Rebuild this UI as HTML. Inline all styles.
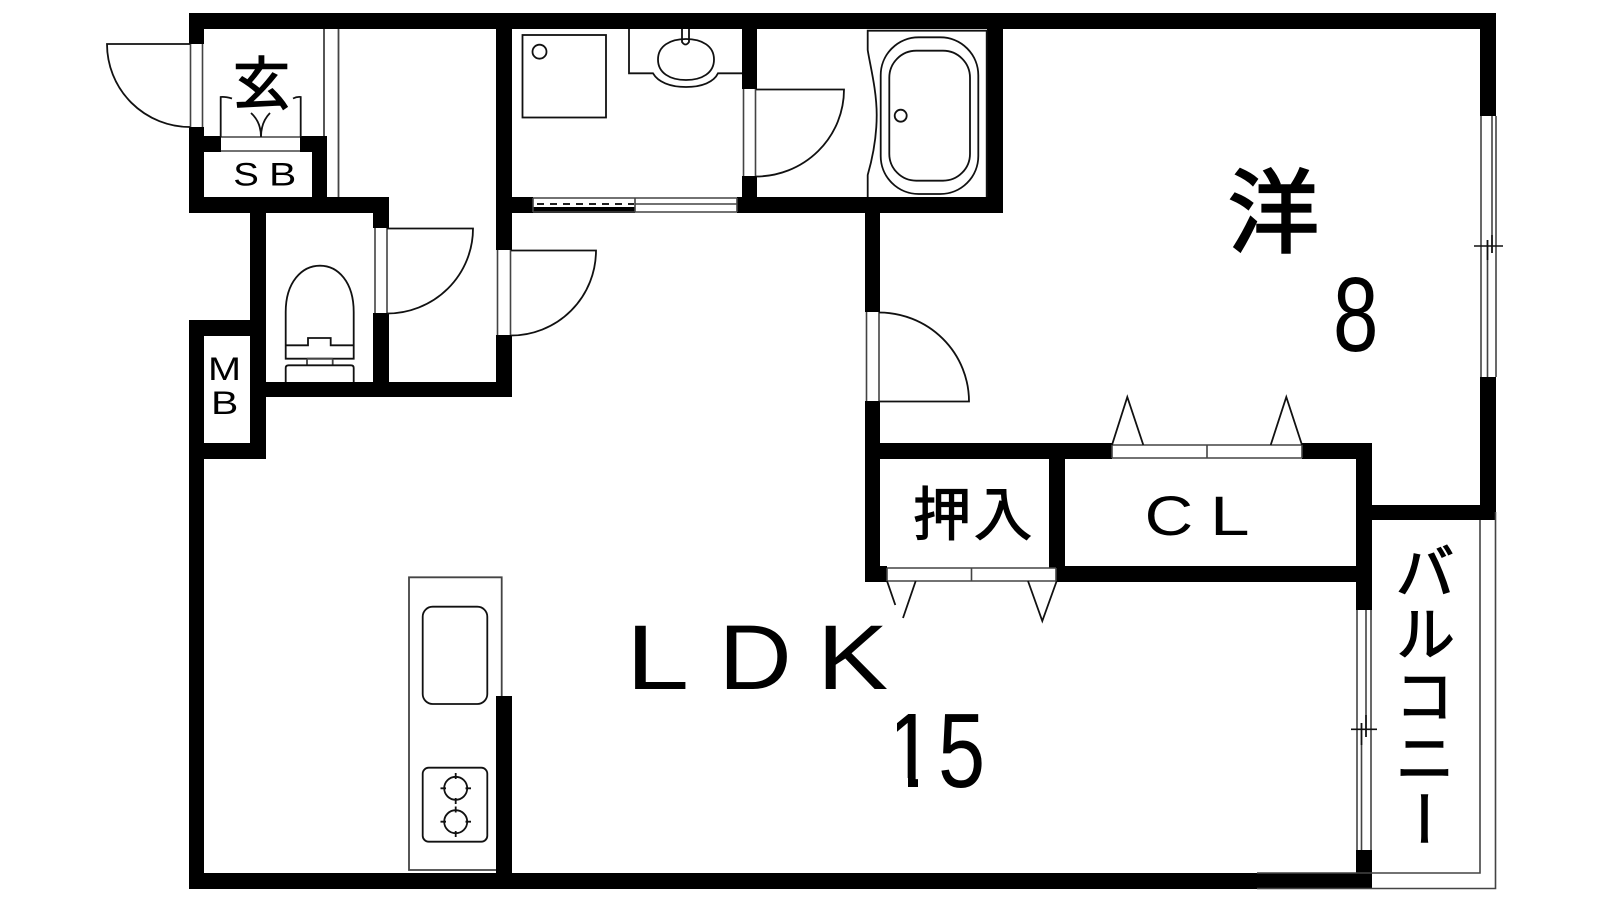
<!DOCTYPE html>
<html lang="ja"><head><meta charset="utf-8"><title>間取り図</title>
<style>html,body{margin:0;padding:0;background:#fff}svg{display:block}
.c{font-family:"Liberation Sans","Noto Sans CJK JP",sans-serif;stroke:#000}
.l{font-family:"Liberation Sans",sans-serif}</style></head>
<body>
<svg width="1600" height="900" viewBox="0 0 1600 900" xmlns="http://www.w3.org/2000/svg">
<rect width="1600" height="900" fill="#fff"/>
<g fill="#000">
<rect x="189" y="13" width="1307" height="16"/>
<rect x="189" y="13" width="15" height="31"/>
<rect x="189" y="127" width="15" height="86"/>
<rect x="189" y="136" width="32" height="16"/>
<rect x="300" y="136" width="27" height="16"/>
<rect x="312" y="136" width="15" height="77"/>
<rect x="189" y="197" width="200" height="16"/>
<rect x="373" y="197" width="16" height="31"/>
<rect x="373" y="313" width="16" height="84"/>
<rect x="250" y="197" width="16" height="262"/>
<rect x="250" y="382" width="262" height="15"/>
<rect x="496" y="13" width="16" height="237"/>
<rect x="496" y="335" width="16" height="62"/>
<rect x="189" y="320" width="61" height="16"/>
<rect x="189" y="320" width="15" height="569"/>
<rect x="189" y="443" width="77" height="16"/>
<rect x="496" y="197" width="37" height="16"/>
<rect x="533" y="207" width="102" height="6"/>
<rect x="737" y="197" width="266" height="16"/>
<rect x="742" y="13" width="15" height="76"/>
<rect x="742" y="176" width="15" height="37"/>
<rect x="987" y="13" width="16" height="200"/>
<rect x="865" y="197" width="15" height="115"/>
<rect x="865" y="401" width="15" height="181"/>
<rect x="865" y="443" width="247" height="16"/>
<rect x="1302" y="443" width="70" height="16"/>
<rect x="1356" y="443" width="16" height="167"/>
<rect x="1356" y="850" width="16" height="39"/>
<rect x="1049" y="443" width="16" height="125"/>
<rect x="865" y="566" width="22" height="16"/>
<rect x="1056" y="566" width="316" height="16"/>
<rect x="189" y="873" width="1183" height="16"/>
<rect x="496" y="696" width="16" height="193"/>
<rect x="1480" y="13" width="16" height="103"/>
<rect x="1480" y="377" width="16" height="143"/>
<rect x="1372" y="505" width="124" height="15"/>
</g>

<!-- frames: gray thin -->
<g fill="none" stroke="#444" stroke-width="1.6">
<path d="M190.5 44V127M202.5 44V127"/>
<path d="M221 137H300M221 151H300"/>
<path d="M375 228V313M387 228V313"/>
<path d="M497.5 250V335M510.5 250V335"/>
<path d="M743.5 89V176M755.5 89V176"/>
<path d="M866.5 312V401M879 312V401"/>
<path d="M1112 445H1302M1112 458H1302M1112 445V458M1302 445V458M1207 445V458"/>
<path d="M887 568H1056M887 581H1056M887 568V581M1056 568V581M971.5 568V581"/>
<path d="M1481 116V377M1496 116V377M1492 116V253M1487.5 240V377"/>
<path d="M1357 610V850M1371 610V850M1366 610V737M1361.5 723V850"/>
<path d="M1480 520V873H1372M1495.5 512V888.5H1372M1257 873H1372M1257 888.5H1372"/>
<path d="M533 198H737M533 212H737M533 198V212M737 198V212M635 198V212M635 204H737"/>
</g>
<path d="M537 204H634" fill="none" stroke="#000" stroke-width="1.8" stroke-dasharray="7 6"/>

<!-- black thin -->
<g fill="none" stroke="#111" stroke-width="1.8">
<path d="M190 44H107A83 83 0 0 0 190 127"/>
<path d="M387 228.500H473A86 85 0 0 1 387 313.500"/>
<path d="M511 250.500H596A85 85 0 0 1 511 335.500"/>
<path d="M756 89.500H844A88 87 0 0 1 756 176.500"/>
<path d="M879 312.500A90 89 0 0 1 969 401.500H879"/>
<path d="M324 29V136M338.500 29V197" stroke="#444"/>
<path d="M232 98.500Q225 96.500 220.700 97V137M293 98.500Q297 96.500 300.700 97V137"/>
<path d="M251 113Q261 122 261 137Q261 122 270 113"/>
<rect x="522.500" y="35" width="83.500" height="82.500"/>
<circle cx="539.500" cy="51.700" r="7"/>
<path d="M629 29V73.300H653C658 82 670 87 686 87S714 82 718 73.300H742"/>
<path d="M658 59.500C658 46 670 39 686 39S714 46 714 59.500S702 80 686 80S658 73 658 59.500Z"/>
<path d="M682 29V42Q685.500 47 689 42V29"/>
<path d="M867.700 197V175C872 160 876.700 140 876.700 115C876.700 90 870 65 867.700 50V30.700H986.700V197"/>
<rect x="880.700" y="37.300" width="97.600" height="156.700" rx="38" ry="38"/>
<rect x="889.300" y="50.700" width="80.700" height="130" rx="27" ry="27"/>
<circle cx="900.700" cy="115.700" r="6"/>
<path d="M285.700 358.700V312C285.700 282 302 265.700 320 265.700S353.700 282 353.700 312V358.700Z"/>
<path d="M285.700 345.300H308V338H330.700V345.300H353.700"/>
<path d="M307 358.700V365.300M332.700 358.700V365.300M307 358.700H332.700" stroke="#444"/>
<path d="M285.700 382V368Q285.700 365.300 288.500 365.300H351Q353.700 365.300 353.700 368V382"/>
<path d="M1112 445L1127.300 397L1143.300 445M1270.700 445L1286.300 397L1302 445"/>
<path d="M887 581L895.300 605M915.700 581L903 618M1028 581L1042.300 621L1056.700 581"/>
<path d="M1474 246H1503M1351 729.300H1377M1487.500 240V260M1492 235V253M1361.500 723V745M1366 715V737" stroke-width="1.6"/>
<path d="M409 696V577.300H501.700V696M409 577V870H496" stroke="#444"/>
<rect x="422.700" y="606.700" width="64.600" height="97.300" rx="10"/>
<rect x="422.700" y="767.700" width="64.600" height="74" rx="6"/>
<circle cx="455.700" cy="788.300" r="11.500"/>
<circle cx="455.700" cy="821.700" r="11.500"/>
<path d="M455.700 773V779M455.700 798V804M440.500 788.300H446M465.500 788.300H471M455.700 806.500V812.500M455.700 831V837M440.500 821.700H446M465.500 821.700H471"/>
</g>

<!-- labels -->
<text class="c" x="233" y="104" font-size="57" stroke-width="1.4">玄</text>
<text class="l" transform="translate(233.300,185.500) scale(1.2,1)" font-size="32">S</text>
<text class="l" transform="translate(269,185.500) scale(1.28,1)" font-size="32">B</text>
<text class="l" transform="translate(208,380) scale(1.24,1)" font-size="32">M</text>
<text class="l" transform="translate(211,414) scale(1.28,1)" font-size="32">B</text>
<text class="c" x="1228" y="245" font-size="91" stroke-width="2.4">洋</text>
<text class="l" transform="translate(1333,351) scale(.77,1)" font-size="106">8</text>
<text class="c" x="913" y="535" font-size="58" stroke-width="1.2">押</text>
<text class="c" x="974" y="535" font-size="58" stroke-width="1.2">入</text>
<text class="l" transform="translate(1144.600,535) scale(1.2,1)" font-size="56">C</text>
<text class="l" transform="translate(1210,535) scale(1.27,1)" font-size="56">L</text>
<text class="l" transform="translate(625.700,689) scale(1.24,1)" font-size="92">L</text>
<text class="l" transform="translate(718.600,689) scale(1.1,1)" font-size="92">D</text>
<text class="l" transform="translate(817,689) scale(1.16,1)" font-size="92">K</text>
<text class="l" transform="translate(885,787) scale(.85,1)" font-size="106">1</text>
<rect x="885" y="778" width="23" height="11" fill="#fff"/>
<rect x="918" y="778" width="20" height="11" fill="#fff"/>
<rect x="885" y="705" width="12" height="40" fill="#fff"/>
<text class="l" transform="translate(938,787) scale(.8,1)" font-size="106">5</text>
<text class="c" x="1420" y="541" font-size="60" letter-spacing="2" stroke-width="1.4" style="writing-mode:vertical-rl">バルコニー</text>
</svg>
</body></html>
